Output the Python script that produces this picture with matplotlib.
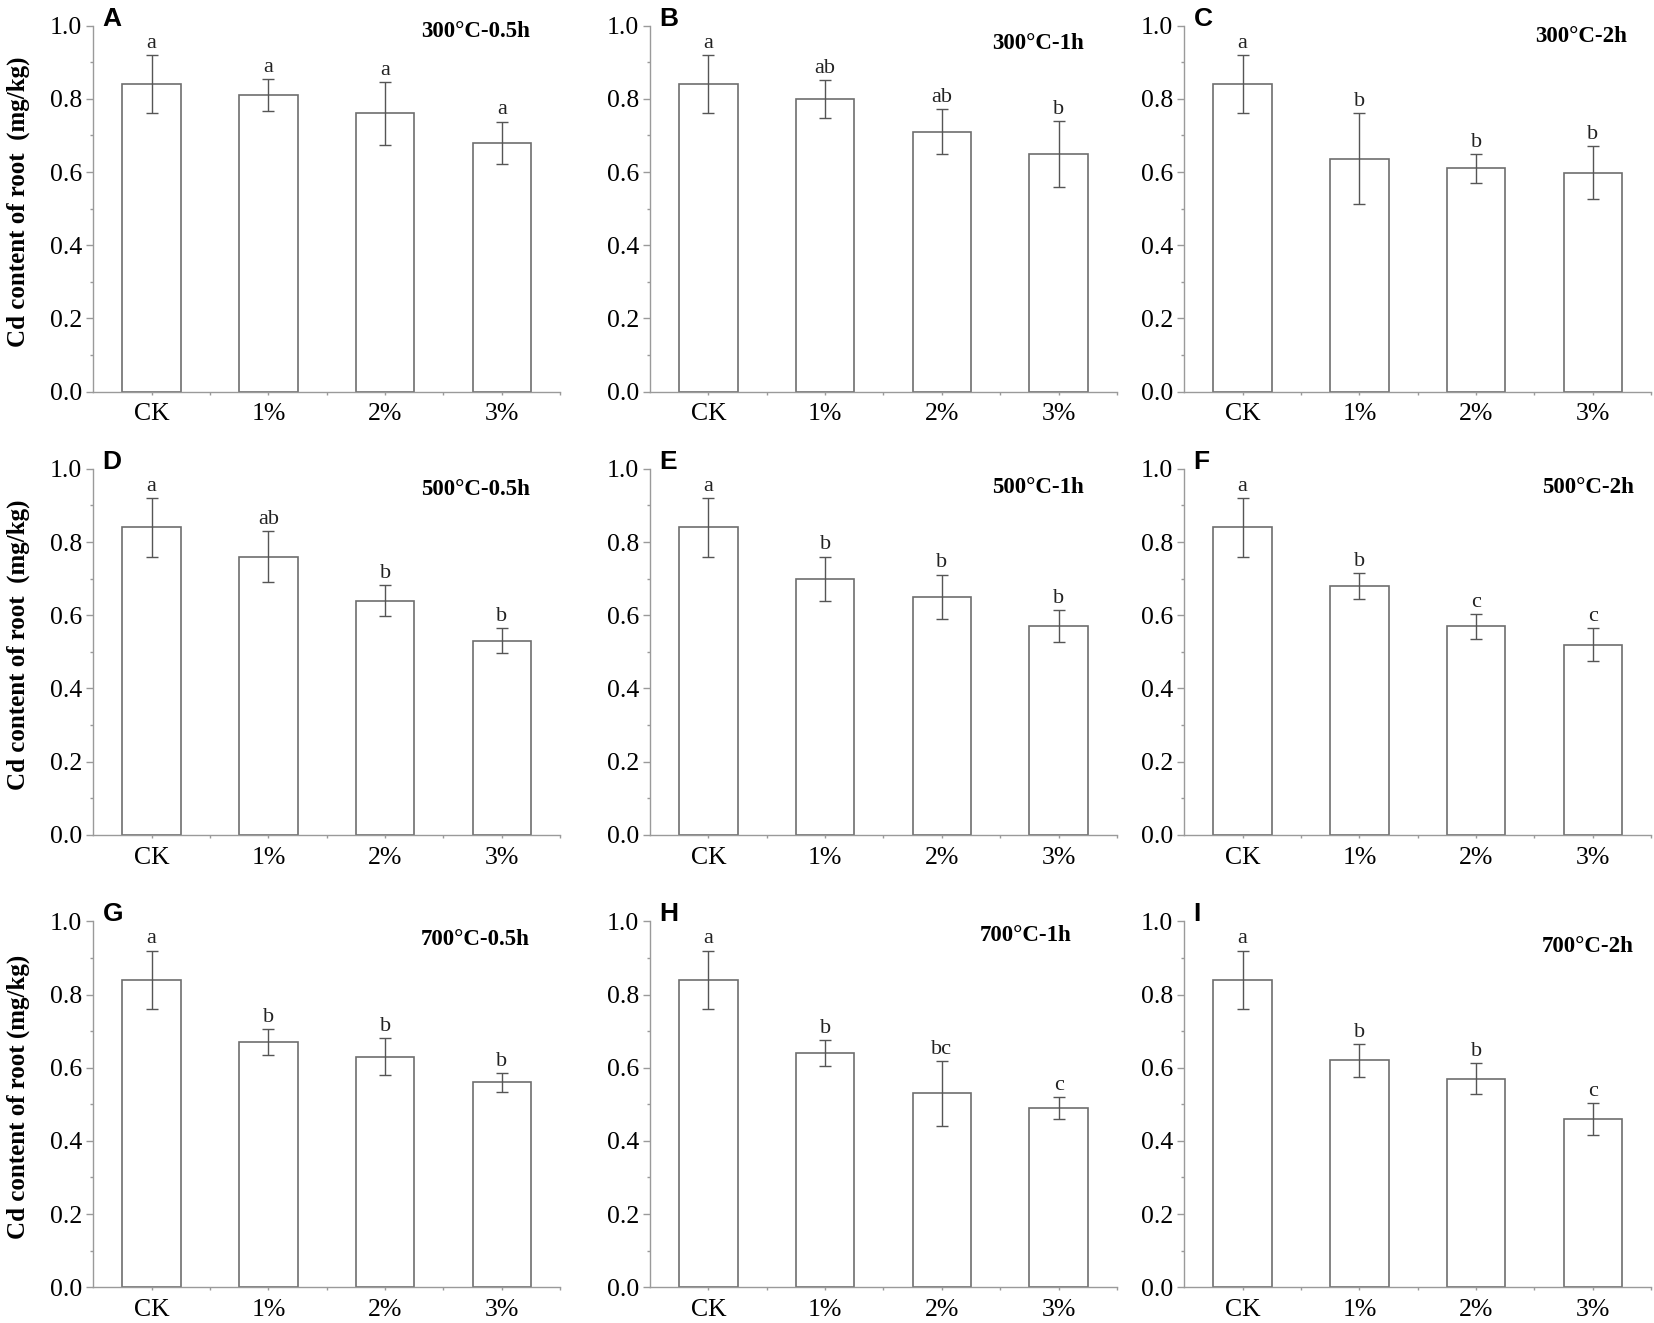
import matplotlib
matplotlib.use('Agg')
import matplotlib.pyplot as plt
from matplotlib.ticker import MultipleLocator

plt.rcParams['font.family'] = 'Liberation Serif'

# data
categories = ['CK', '1%', '2%', '3%']
panel_letters = ['A', 'B', 'C', 'D', 'E', 'F', 'G', 'H', 'I']
conditions = ['300°C-0.5h', '300°C-1h', '300°C-2h',
              '500°C-0.5h', '500°C-1h', '500°C-2h',
              '700°C-0.5h', '700°C-1h', '700°C-2h']

mean_300 = [[0.84, 0.81, 0.76, 0.68],
            [0.84, 0.80, 0.71, 0.65],
            [0.84, 0.637, 0.61, 0.598]]
err_300 = [[0.08, 0.044, 0.086, 0.058],
           [0.08, 0.052, 0.062, 0.09],
           [0.08, 0.123, 0.04, 0.072]]
sig_300 = [['a', 'a', 'a', 'a'],
           ['a', 'ab', 'ab', 'b'],
           ['a', 'b', 'b', 'b']]

mean_500 = [[0.84, 0.76, 0.64, 0.53],
            [0.84, 0.70, 0.65, 0.57],
            [0.84, 0.68, 0.57, 0.52]]
err_500 = [[0.08, 0.07, 0.043, 0.034],
           [0.08, 0.06, 0.061, 0.044],
           [0.08, 0.036, 0.034, 0.045]]
sig_500 = [['a', 'ab', 'b', 'b'],
           ['a', 'b', 'b', 'b'],
           ['a', 'b', 'c', 'c']]

mean_700 = [[0.84, 0.67, 0.63, 0.56],
            [0.84, 0.64, 0.53, 0.49],
            [0.84, 0.62, 0.57, 0.46]]
err_700 = [[0.08, 0.035, 0.05, 0.026],
           [0.08, 0.036, 0.088, 0.03],
           [0.08, 0.045, 0.043, 0.043]]
sig_700 = [['a', 'b', 'b', 'b'],
           ['a', 'b', 'bc', 'c'],
           ['a', 'b', 'b', 'c']]

means = mean_300 + mean_500 + mean_700
errs = err_300 + err_500 + err_700
sigs = sig_300 + sig_500 + sig_700

# layout (figure fractions) and title spots (data coords)
lefts = [0.0564, 0.393, 0.716]
bottoms = [0.704, 0.369, 0.027]
w, h = 0.2823, 0.2766
title_xy = [(3.24, 0.985), (3.22, 0.95), (3.29, 0.97),
            (3.24, 0.944), (3.22, 0.95), (3.35, 0.95),
            (3.24, 0.95), (3.11, 0.96), (3.35, 0.93)]
ylabels = ['Cd content of root  (mg/kg)', 'Cd content of root  (mg/kg)',
           'Cd content of root (mg/kg)']

fig = plt.figure(figsize=(16.54, 13.23), dpi=100)
x = list(range(len(categories)))

for i in range(9):
    r, c = divmod(i, 3)
    ax = fig.add_axes([lefts[c], bottoms[r], w, h])
    ax.bar(x, means[i], width=0.5, color='white', edgecolor='#6e6e6e', linewidth=1.2, zorder=2)
    ax.errorbar(x, means[i], yerr=errs[i], fmt='none', ecolor='#555555',
                elinewidth=1.0, capsize=4, capthick=1.0, zorder=3)
    for xi, m, e, s in zip(x, means[i], errs[i], sigs[i]):
        ax.text(xi, m + e + 0.032, s, ha='center', va='center', fontsize=16, color='#222222')

    ax.set_xlim(-0.5, 3.5)
    ax.set_ylim(0, 1.0)
    ax.set_xticks(x)
    ax.set_xticklabels(categories, fontsize=18.5)
    ax.set_xticks([0.5, 1.5, 2.5, 3.5], minor=True)
    ax.yaxis.set_minor_locator(MultipleLocator(0.1))
    ax.set_yticks([0.0, 0.2, 0.4, 0.6, 0.8, 1.0])
    ax.set_yticklabels(['0.0', '0.2', '0.4', '0.6', '0.8', '1.0'], fontsize=18.5)

    for side in ['top', 'right']:
        ax.spines[side].set_visible(False)
    for side in ['left', 'bottom']:
        ax.spines[side].set_color('#9a9a9a')
        ax.spines[side].set_linewidth(1.0)
    ax.tick_params(axis='y', which='major', direction='out', length=5, width=1, color='#9a9a9a', pad=3)
    ax.tick_params(axis='y', which='minor', direction='out', length=2.5, width=1, color='#9a9a9a')
    ax.tick_params(axis='x', which='both', direction='out', length=2.5, width=1, color='#9a9a9a', pad=6)

    tx, ty = title_xy[i]
    ax.text(tx, ty, conditions[i], ha='right', va='center', fontsize=16.5, fontweight='bold')
    ax.text(0.02, 1.0, panel_letters[i], transform=ax.transAxes, ha='left', va='baseline',
            fontsize=19, fontweight='bold', family='Liberation Sans')

    if c == 0:
        ax.set_ylabel(ylabels[r], fontsize=18, fontweight='bold')
        ax.yaxis.set_label_coords(-0.136, 0.52)

fig.savefig('out.png', dpi=100)
